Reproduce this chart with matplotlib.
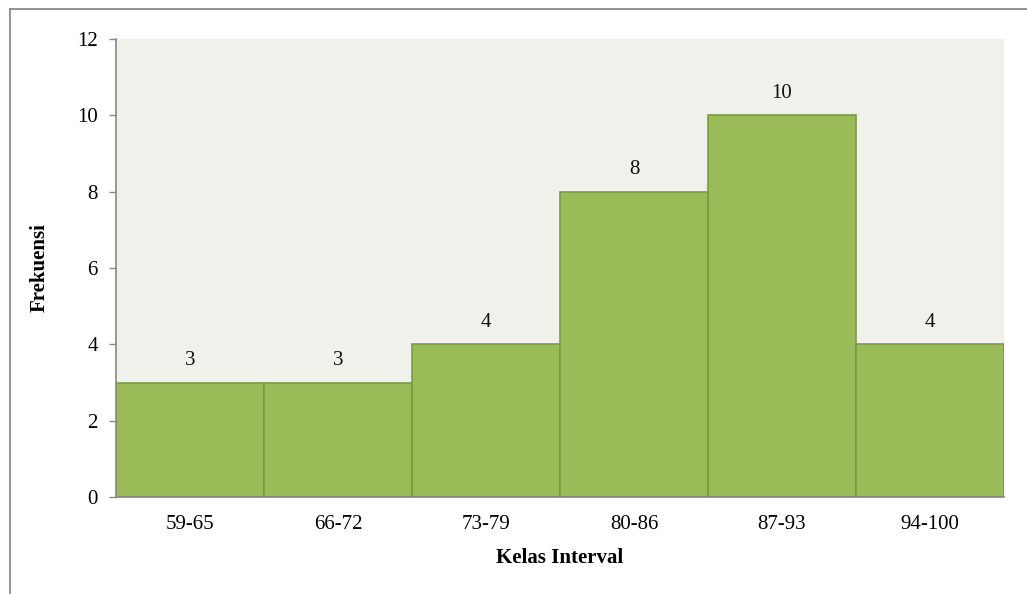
import matplotlib
matplotlib.use("Agg")
import matplotlib.pyplot as plt
from matplotlib.lines import Line2D

categories = ["59-65", "66-72", "73-79", "80-86", "87-93", "94-100"]
frequencies = [3, 3, 4, 8, 10, 4]
y_ticks = [0, 2, 4, 6, 8, 10, 12]

plt.rcParams["font.family"] = ["Liberation Serif", "DejaVu Serif"]

W, H = 1027, 594
fig = plt.figure(figsize=(W / 100, H / 100), dpi=100)
ax = fig.add_axes([116 / W, 1 - 497 / H, (1004 - 116) / W, (497 - 39) / H])
ax.set_facecolor("#EFF1EA")

x = list(range(len(categories)))
ax.bar(x, frequencies, width=1.0, color="#9BBB59", edgecolor="#7A9A45", linewidth=1.2, zorder=2)
for xi, v in zip(x, frequencies):
    ax.text(xi, v + 0.33, str(v), ha="center", va="bottom", fontsize=15, color="#111111")

ax.set_xlim(-0.5, len(categories) - 0.5)
ax.set_ylim(0, 12)
ax.set_yticks(y_ticks)
ax.set_xticks(x)
ax.set_xticklabels(categories)
ax.tick_params(axis="y", length=5, width=1, color="#888888", labelsize=15, pad=8)
ax.tick_params(axis="x", length=0, labelsize=15, pad=13)

for side in ("top", "right"):
    ax.spines[side].set_visible(False)
for side in ("left", "bottom"):
    ax.spines[side].set_color("#888888")
    ax.spines[side].set_linewidth(1.2)

ax.set_xlabel("Kelas Interval", fontsize=15, fontweight="bold", labelpad=10)
ax.set_ylabel("Frekuensi", fontsize=15, fontweight="bold", labelpad=20)

# chart frame (left and top edges)
fig.add_artist(Line2D([10 / W, 10 / W], [0, 1 - 9 / H], transform=fig.transFigure, color="#8A8A8A", linewidth=1.3))
fig.add_artist(Line2D([10 / W, 1], [1 - 9 / H, 1 - 9 / H], transform=fig.transFigure, color="#8A8A8A", linewidth=1.3))

fig.savefig("out.png", dpi=100)
